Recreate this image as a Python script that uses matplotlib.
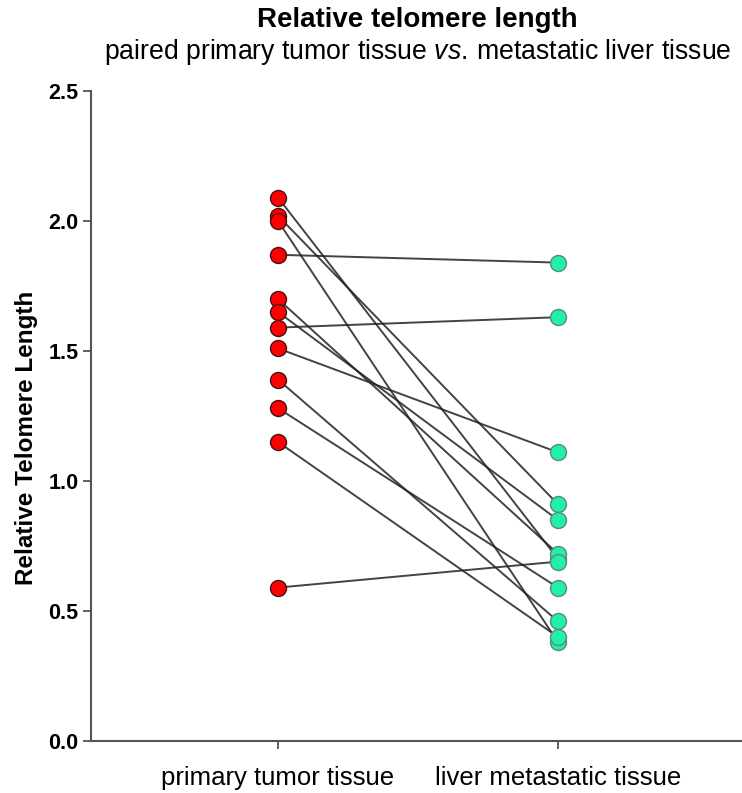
import matplotlib
matplotlib.use("Agg")
import matplotlib.pyplot as plt

plt.rcParams['font.family'] = ['Liberation Sans', 'DejaVu Sans']
plt.rcParams['mathtext.fontset'] = 'custom'
plt.rcParams['mathtext.rm'] = 'Liberation Sans'
plt.rcParams['mathtext.it'] = 'Liberation Sans:italic'

groups = ['primary tumor tissue', 'liver metastatic tissue']
primary = [2.09, 2.02, 2.00, 1.87, 1.70, 1.65, 1.59, 1.51, 1.39, 1.28, 1.15, 0.59]
liver = [0.70, 0.91, 0.38, 1.84, 0.72, 0.85, 1.63, 1.11, 0.46, 0.59, 0.40, 0.69]
yticks = [0.0, 0.5, 1.0, 1.5, 2.0, 2.5]

fig = plt.figure(figsize=(7.42, 7.93), dpi=100)
ax = fig.add_axes([91 / 742, 1 - 741 / 793, 1 - 91 / 742, (741 - 91) / 793])

for a, b in zip(primary, liver):
    ax.plot([0, 1], [a, b], color='#222222', lw=1.4, alpha=0.85, zorder=1)

ax.plot([0] * len(primary), primary, 'o', ms=11.5, mfc='#ff0000', mec='#4a1010', mew=1.0, ls='none', zorder=3)
ax.plot([1] * len(liver), liver, 'o', ms=11.5, mfc='#22f0a8', mec='#5a8a7a', mew=1.0, ls='none', zorder=3)

ax.set_xlim(-0.668, 1.657)
ax.set_ylim(0, 2.5)
ax.set_xticks([0, 1])
ax.set_xticklabels(groups, fontsize=18.5)
ax.set_yticks(yticks)
ax.set_yticklabels(['%.1f' % v for v in yticks], fontsize=15.5, fontweight='bold')
ax.tick_params(axis='both', direction='out', length=6, width=1.2, color='#444444', pad=3)
ax.tick_params(axis='x', pad=12)
for s in ['top', 'right']:
    ax.spines[s].set_visible(False)
for s in ['left', 'bottom']:
    ax.spines[s].set_color('#555555')
    ax.spines[s].set_linewidth(1.5)

ax.set_ylabel('Relative Telomere Length', fontsize=17.5, fontweight='bold')
ax.yaxis.set_label_coords(-0.082, 0.466)

fig.text(417 / 742, 1 - 20 / 793, 'Relative telomere length', ha='center', va='center',
         fontsize=20, fontweight='bold')
fig.text(418 / 742, 1 - 52 / 793, r'paired primary tumor tissue $\it{vs.}\,$metastatic liver tissue',
         ha='center', va='center', fontsize=19.2)

fig.savefig('out.png', dpi=100)
